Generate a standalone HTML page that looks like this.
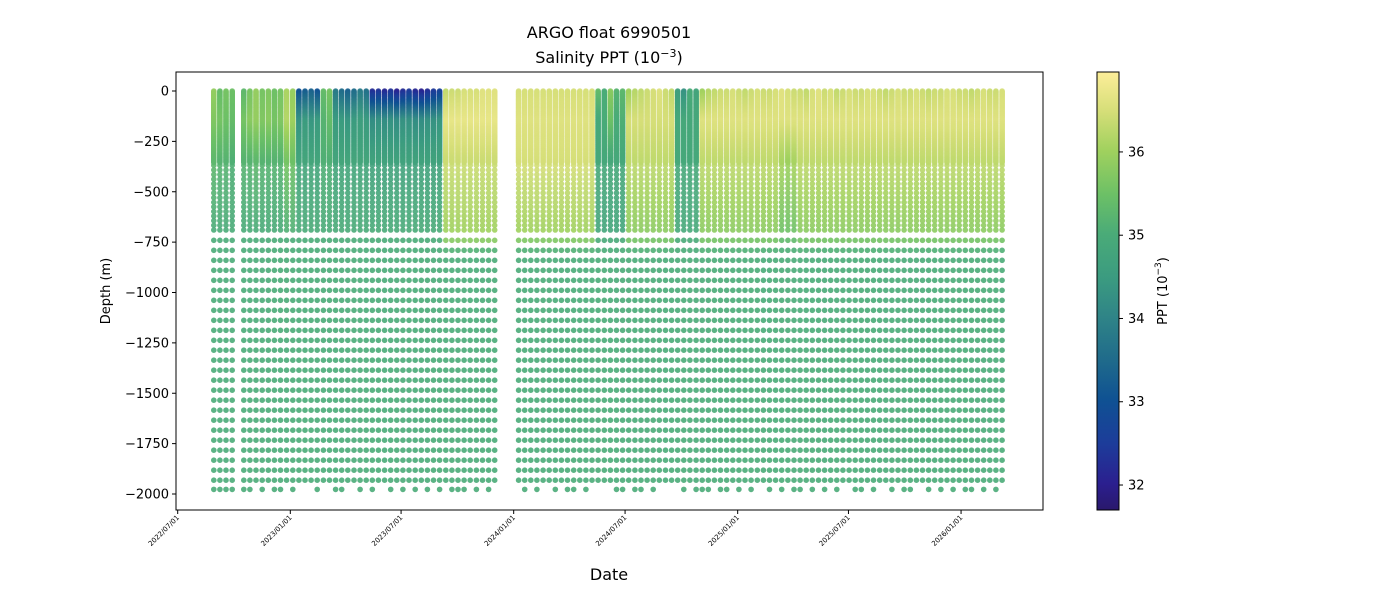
<!DOCTYPE html>
<html><head><meta charset="utf-8"><style>
body{margin:0;background:#fff;}
svg{display:block;font-family:"DejaVu Sans","Liberation Sans",sans-serif;}
</style></head><body>
<svg id="chart" width="1400" height="600" viewBox="0 0 1400 600">
<text x="609" y="38" font-size="16" text-anchor="middle">ARGO float 6990501</text>
<text x="609" y="63" font-size="16" text-anchor="middle">Salinity PPT (10<tspan dy="-6" font-size="11">−3</tspan><tspan dy="6">)</tspan></text>
<g id="marks"></g>
<rect x="176" y="72" width="867" height="438" fill="none" stroke="#000" stroke-width="1"/>
<g id="yaxis"></g>
<g id="xaxis"></g>
<text x="110" y="291" font-size="13" text-anchor="middle" transform="rotate(-90 110 291)">Depth (m)</text>
<text x="609" y="580" font-size="16" text-anchor="middle">Date</text>
<defs><linearGradient id="cmap" x1="0" y1="1" x2="0" y2="0"></linearGradient></defs>
<rect x="1097" y="72" width="22" height="438" fill="url(#cmap)" stroke="#000" stroke-width="1"/>
<g id="cbaxis"></g>
<text x="1167" y="291" font-size="13" text-anchor="middle" transform="rotate(-90 1167 291)">PPT (10<tspan dy="-6" font-size="9">−3</tspan><tspan dy="6">)</tspan></text>
</svg>
<script>
// profile dates: days since 2022-07-01
const profileDays = [59,69,79,89,
108,118,128,138,148,158,168,178,188,198,208,218,228,238,248,258,268,278,288,298,308,318,328,338,348,358,368,378,388,398,408,418,428,438,448,458,468,478,488,498,508,518,
557,567,577,587,597,607,617,627,637,647,657,667,677,687,697,707,717,727,737,747,757,767,777,787,797,807,817,827,837,847,857,867,877,887,897,907,917,927,937,947,957,967,977,987,997,1007,1017,1027,1037,1047,1057,1067,1077,1087,1097,1107,1117,1127,1137,1147,1157,1167,1177,1187,1197,1207,1217,1227,1237,1247,1257,1267,1277,1287,1297,1307,1317,1327,1337,1347];
// salinity at knot depths 0,150,350,700,750 m and deep
const salSurf = [35.9,35.4,35.6,35.5,
35.3,35.6,35.9,35.6,35.7,35.5,35.6,36.1,35.9,33.0,33.2,33.3,33.0,35.4,35.6,33.8,33.5,33.3,33.5,33.8,33.6,32.2,32.3,32.1,32.3,32.0,32.2,32.4,32.1,32.0,32.2,32.4,32.6,36.3,36.4,36.4,36.5,36.5,36.5,36.6,36.6,36.6,
36.5,36.5,36.5,36.5,36.5,36.5,36.5,36.5,36.5,36.5,36.5,36.5,36.5,
35.4,35.0,35.8,35.2,35.3,
36.0,36.2,36.3,36.4,36.5,36.6,36.4,36.3,
34.6,34.3,35.0,34.8,
36.0,36.2,36.3,36.4,36.4,36.5,36.4,36.3,36.4,36.5,
36.4,36.4,36.5,36.6,36.5,36.4,36.4,36.3,36.5,36.6,
36.4,36.5,36.3,36.4,36.5,36.4,36.4,36.5,36.5,36.4,
36.3,36.4,36.5,36.4,36.4,36.5,36.4,36.3,36.4,36.4,
36.5,36.5,36.4,36.4,36.3,36.4,36.5,36.4,36.4,36.5];
const sal150 = [35.7,35.6,35.5,35.4,
35.6,35.8,35.9,35.7,35.8,35.6,35.7,36.2,36.0,34.3,34.5,34.4,34.5,35.2,35.4,34.5,34.5,34.4,34.5,34.6,34.5,34.2,34.3,34.2,34.3,34.2,34.3,34.3,34.2,34.2,34.3,34.3,34.4,36.7,36.7,36.7,36.7,36.7,36.7,36.7,36.7,36.7,
36.6,36.6,36.6,36.6,36.6,36.6,36.6,36.6,36.6,36.6,36.6,36.6,36.6,
34.9,35.0,35.5,35.0,35.1,
36.5,36.5,36.5,36.5,36.5,36.5,36.5,36.5,
34.9,34.9,34.9,34.9,
36.6,36.6,36.6,36.6,36.6,36.6,36.6,36.6,36.6,36.6,
36.6,36.6,36.6,36.6,36.6,36.6,36.6,36.6,36.6,36.6,
36.6,36.6,36.6,36.6,36.6,36.6,36.6,36.6,36.6,36.6,
36.6,36.6,36.6,36.6,36.6,36.6,36.6,36.6,36.6,36.6,
36.6,36.6,36.6,36.6,36.6,36.6,36.6,36.6,36.6,36.6];
const sal350 = [35.3,35.2,35.2,35.1,
35.2,35.2,35.3,35.2,35.2,35.2,35.2,35.6,35.5,34.8,34.8,34.8,34.8,35.1,35.1,34.8,34.8,34.8,34.8,34.8,34.8,34.7,34.7,34.7,34.7,34.7,34.7,34.7,34.7,34.7,34.7,34.7,34.7,36.4,36.4,36.4,36.4,36.4,36.4,36.4,36.4,36.4,
36.5,36.5,36.5,36.5,36.5,36.5,36.5,36.5,36.5,36.5,36.5,36.5,36.5,
34.9,34.9,34.9,34.9,34.9,
36.3,36.3,36.3,36.3,36.3,36.3,36.3,36.3,
34.9,34.9,34.9,34.9,
36.3,36.3,36.3,36.3,36.3,36.3,36.3,36.3,36.3,36.3,
36.3,36.3,36.3,36.1,36.0,36.1,36.3,36.3,36.3,36.3,
36.3,36.3,36.3,36.3,36.3,36.3,36.3,36.3,36.3,36.3,
36.3,36.3,36.3,36.3,36.3,36.3,36.3,36.3,36.3,36.3,
36.3,36.3,36.3,36.3,36.3,36.3,36.3,36.3,36.3,36.3];
const sal700 = [35.0,35.0,35.0,35.0,
35.0,35.0,35.0,35.0,35.0,35.0,35.0,35.1,35.1,35.0,35.0,35.0,35.0,35.0,35.0,35.0,35.0,35.0,35.0,35.0,35.0,35.0,35.0,35.0,35.0,35.0,35.0,35.0,35.0,35.0,35.0,35.0,35.0,36.0,36.0,36.0,36.0,36.0,36.0,36.0,36.0,36.0,
36.0,36.0,36.0,36.0,36.0,36.0,36.0,36.0,36.0,36.0,36.0,36.0,36.0,
34.8,34.8,34.8,34.8,34.8,
35.8,35.8,35.8,35.8,35.8,35.8,35.8,35.8,
34.9,34.9,34.9,34.9,
35.8,35.8,35.8,35.8,35.8,35.8,35.8,35.8,35.8,35.8,
35.8,35.8,35.8,35.5,35.5,35.5,35.8,35.8,35.8,35.8,
35.8,35.8,35.8,35.8,35.8,35.8,35.8,35.8,35.8,35.8,
35.8,35.8,35.8,35.8,35.8,35.8,35.8,35.8,35.8,35.8,
35.8,35.8,35.8,35.8,35.8,35.8,35.8,35.8,35.8,35.8];
const sal750 = [35.0,35.0,35.0,35.0,
35.0,35.0,35.0,35.0,35.0,35.0,35.0,35.0,35.0,35.0,35.0,35.0,35.0,35.0,35.0,35.0,35.0,35.0,35.0,35.0,35.0,35.0,35.0,35.0,35.0,35.0,35.0,35.0,35.0,35.0,35.0,35.0,35.0,35.7,35.7,35.7,35.7,35.7,35.7,35.7,35.7,35.7,
35.6,35.6,35.6,35.6,35.6,35.6,35.6,35.6,35.6,35.6,35.6,35.6,35.6,
35.0,35.0,35.0,35.0,35.0,
35.5,35.5,35.5,35.5,35.5,35.5,35.5,35.5,
35.0,35.0,35.0,35.0,
35.5,35.5,35.5,35.5,35.5,35.5,35.5,35.5,35.5,35.5,
35.5,35.5,35.5,35.3,35.3,35.3,35.5,35.5,35.5,35.5,
35.5,35.5,35.5,35.5,35.5,35.5,35.5,35.5,35.5,35.5,
35.5,35.5,35.5,35.5,35.5,35.5,35.5,35.5,35.5,35.5,
35.5,35.5,35.5,35.5,35.5,35.5,35.5,35.5,35.5,35.5];
const salDeep = 35.0;
// 1 = profile reached the ~1977 m bottom sample
const bottomFlag = [1,1,1,1,
1,1,0,1,0,1,1,0,1,0, 0,0,1,0,0,1,1,0,0,1, 0,1,0,0,1,0,1,0,1,0, 1,0,1,0,1,1,1,0,1,0, 1,0,
0,1,0,1,0,0,1,0,1,1, 0,1,0,0,0,0,1,1,0,1, 1,0,1,0,0,0,0,1,0,1, 1,1,0,1,1,0,1,0,1,0,
0,1,0,1,0,1,1,0,1,0, 1,0,1,0,0,1,1,0,1,0, 0,1,0,1,1,0,0,1,0,1, 0,1,0,1,1,0,1,0,1,0];
const yTicks = [0,-250,-500,-750,-1000,-1250,-1500,-1750,-2000];
const xTickDays = [0,184,365,549,731,915,1096,1280];
const xTickLabels = ["2022/07/01","2023/01/01","2023/07/01","2024/01/01","2024/07/01","2025/01/01","2025/07/01","2026/01/01"];
const cbTicks = [32,33,34,35,36];
const vmin = 31.7, vmax = 36.96;

const NS="http://www.w3.org/2000/svg";
const xS = d => 177.7 + d*0.612;
const yS = v => 91 - v*0.2015;
const cbY = v => 510 - (v - vmin)/(vmax - vmin)*438;
const stops = [[0,"#2a186c"],[0.06,"#2b1f8f"],[0.15,"#1d3c9a"],[0.25,"#0f5193"],[0.34,"#1f6a8b"],[0.44,"#2f8487"],[0.53,"#3b9b80"],[0.63,"#4aab78"],[0.72,"#6cc066"],[0.82,"#a0d15e"],[0.91,"#d5de78"],[1,"#fdee99"]];
function hex(h){return [1,3,5].map(i=>parseInt(h.substr(i,2),16));}
function cmap(v){
  let t=Math.max(0,Math.min(1,(v-vmin)/(vmax-vmin)));
  for(let i=1;i<stops.length;i++){ if(t<=stops[i][0]){const a=hex(stops[i-1][1]),b=hex(stops[i][1]);const f=(t-stops[i-1][0])/(stops[i][0]-stops[i-1][0]);return "rgb("+a.map((c,k)=>Math.round(c+(b[k]-c)*f)).join(",")+")";}}
  return stops[stops.length-1][1];
}
const grad=document.getElementById('cmap');
stops.forEach(s=>{const st=document.createElementNS(NS,'stop');st.setAttribute('offset',s[0]);st.setAttribute('stop-color',s[1]);grad.appendChild(st);});

function salAt(i,d){
  const kd=[0,150,350,700,750], kv=[salSurf[i],sal150[i],sal350[i],sal700[i],sal750[i]];
  if(d>=800) return salDeep;
  if(d>=750) return kv[4]+(salDeep-kv[4])*(d-750)/50;
  for(let k=1;k<kd.length;k++) if(d<=kd[k]) return kv[k-1]+(kv[k]-kv[k-1])*(d-kd[k-1])/(kd[k]-kd[k-1]);
  return salDeep;
}
const marks=document.getElementById('marks');
function dot(x,y,c,op){
  const el=document.createElementNS(NS,'circle');
  el.setAttribute('cx',x.toFixed(1));el.setAttribute('cy',y.toFixed(1));el.setAttribute('r','2.8');
  el.setAttribute('fill',c);el.setAttribute('fill-opacity',op);
  
  
  marks.appendChild(el);
}
profileDays.forEach((day,i)=>{
  const x=xS(day);
  for(let d=0;d<=358;d+=4) dot(x,yS(-d),cmap(salAt(i,d)),0.85);
  for(let k=0;k<15;k++){const d=369+22.9*k;dot(x,yS(-d),cmap(salAt(i,d)),0.9);}
  for(let k=0;k<25;k++){const d=741+49.6*k;dot(x,yS(-d),cmap(salAt(i,d)),0.9);}
  if(bottomFlag[i]) dot(x,yS(-1977),cmap(salDeep),0.9);
});

const ya=document.getElementById('yaxis');
yTicks.forEach(v=>{
  const y=yS(v);
  const l=document.createElementNS(NS,'line');
  l.setAttribute('x1',172);l.setAttribute('x2',176);l.setAttribute('y1',y);l.setAttribute('y2',y);l.setAttribute('stroke','#000');
  
  
  ya.appendChild(l);
  const t=document.createElementNS(NS,'text');
  t.setAttribute('x',169);t.setAttribute('y',y+4.5);t.setAttribute('font-size','13');t.setAttribute('text-anchor','end');
  t.textContent=(v<0?'−'+(-v):v);
  
  
  ya.appendChild(t);
});
const xa=document.getElementById('xaxis');
xTickDays.forEach((d,i)=>{
  const x=xS(d);
  const l=document.createElementNS(NS,'line');
  l.setAttribute('x1',x);l.setAttribute('x2',x);l.setAttribute('y1',510);l.setAttribute('y2',514);l.setAttribute('stroke','#000');
  
  
  xa.appendChild(l);
  const t=document.createElementNS(NS,'text');
  t.setAttribute('x',x+2);t.setAttribute('y',518);t.setAttribute('font-size','7');t.setAttribute('text-anchor','end');
  t.setAttribute('transform','rotate(-45 '+(x+2)+' 518)');
  t.textContent=xTickLabels[i];
  
  
  xa.appendChild(t);
});
const ca=document.getElementById('cbaxis');
cbTicks.forEach(v=>{
  const y=cbY(v);
  const l=document.createElementNS(NS,'line');
  l.setAttribute('x1',1119);l.setAttribute('x2',1123);l.setAttribute('y1',y);l.setAttribute('y2',y);l.setAttribute('stroke','#000');
  
  
  ca.appendChild(l);
  const t=document.createElementNS(NS,'text');
  t.setAttribute('x',1128);t.setAttribute('y',y+4.5);t.setAttribute('font-size','13');
  t.textContent=v;
  
  
  ca.appendChild(t);
});
</script>
</body></html>
